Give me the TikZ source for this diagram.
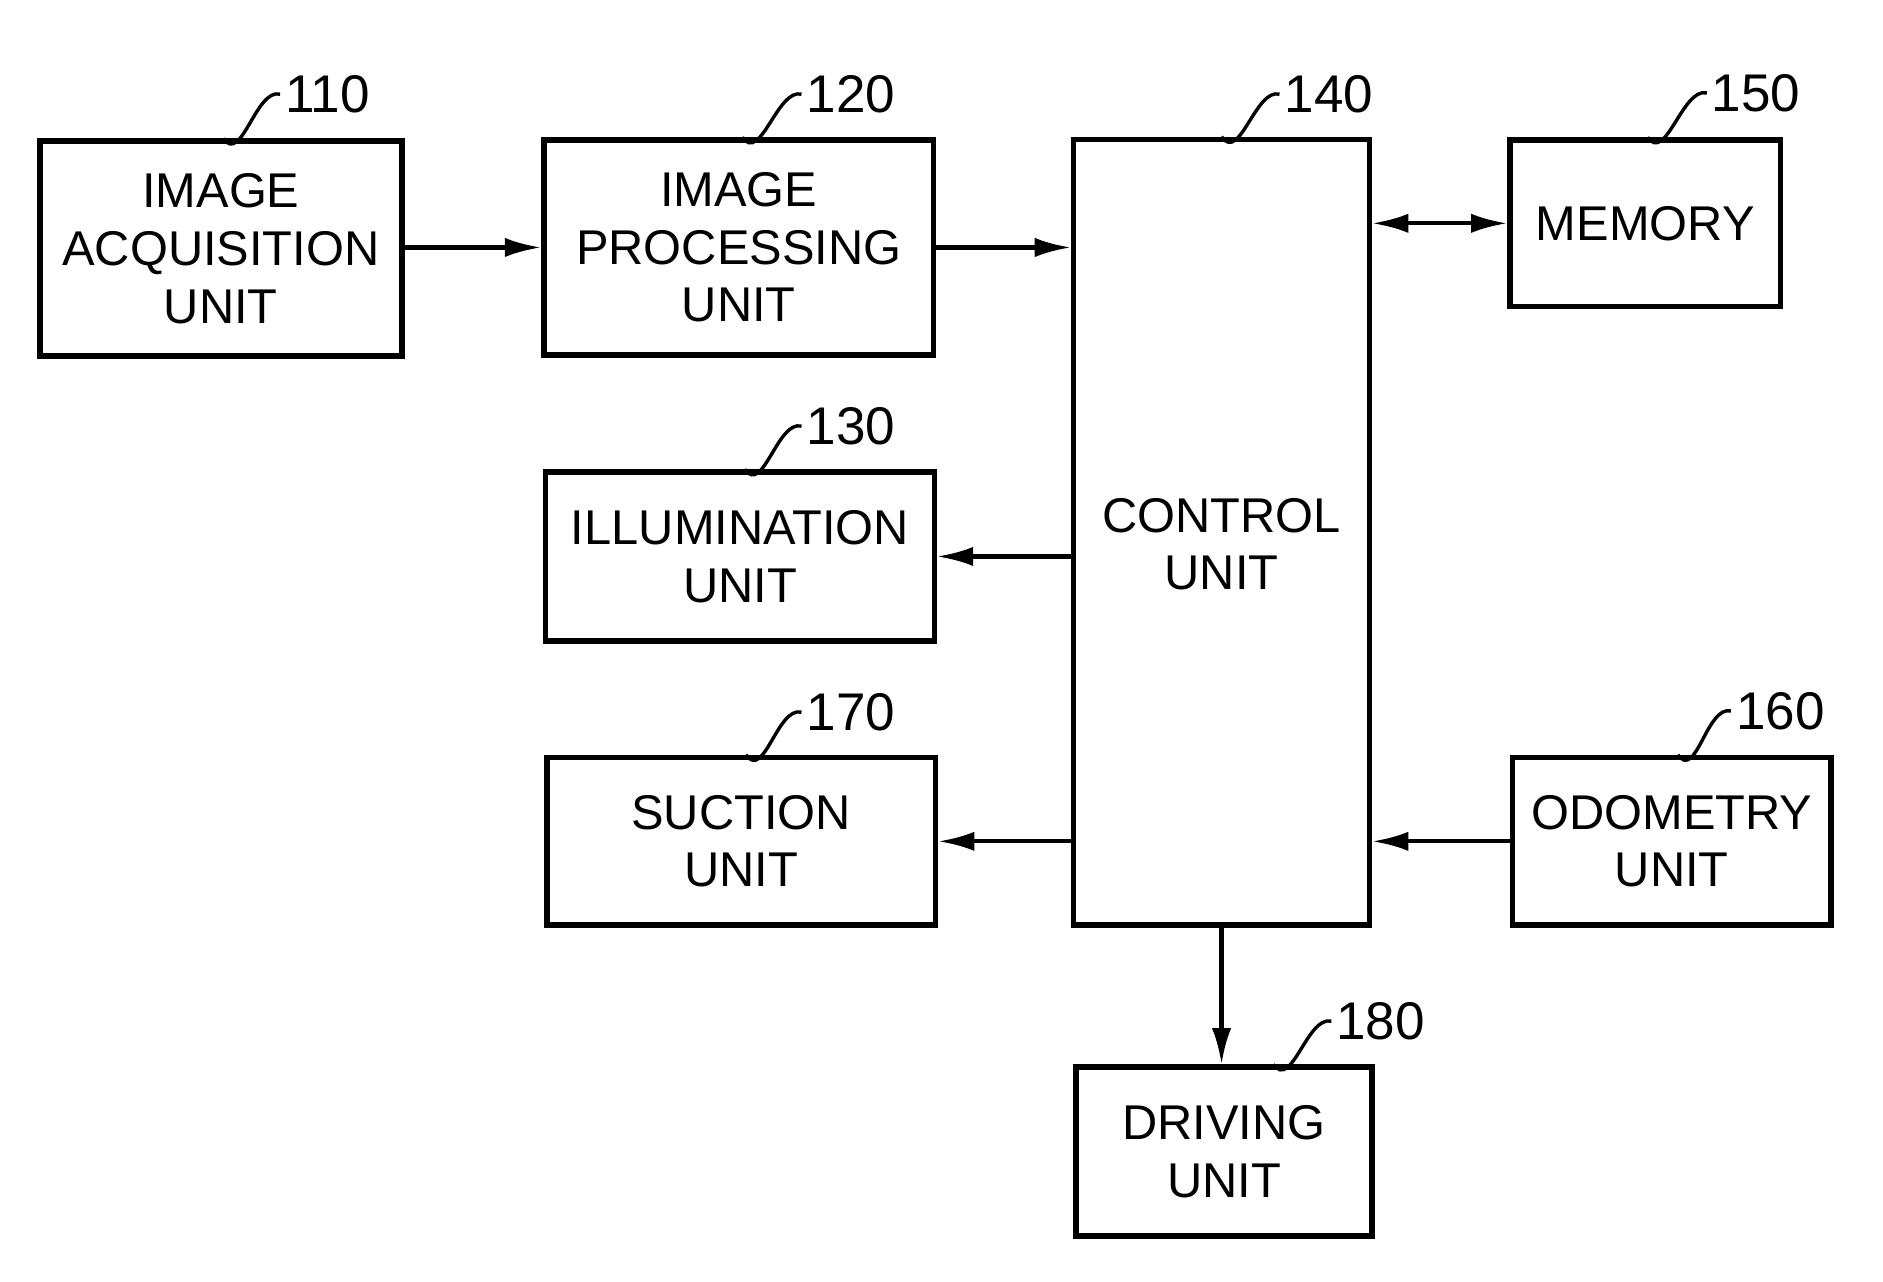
\documentclass[tikz,border=0pt]{standalone}
\usepackage{fontspec}
\setmainfont{Liberation Sans}
\usetikzlibrary{shapes,arrows.meta}
\tikzstyle{arrow} = [draw, -{Latex[length=3mm,width=1.6mm]}, line width=1pt]
\tikzstyle{biarrow} = [draw, {Latex[length=3mm,width=1.6mm]}-{Latex[length=3mm,width=1.6mm]}, line width=1pt]
\tikzstyle{unitBlock} = [draw, rectangle, line width=1.3pt, align=center,
    font=\fontsize{11.5}{13.6}\selectfont, inner sep=0pt]
\tikzstyle{refLabel} = [font=\fontsize{12.5}{14}\selectfont, anchor=west, inner sep=1pt]
\newcommand{\leader}[3]{\draw [line width=0.8pt] ([xshift=#3]#1.north) .. controls +(0.15,0.22) and +(-0.2,-0.05) .. (#2.west);}

\begin{document}
\begin{tikzpicture}[x=1cm, y=-1cm]
      \useasboundingbox (0,0) rectangle (15.6,10.62);
      % Place nodes
      \node [unitBlock, minimum width=3cm, minimum height=1.78cm] (acq) at (1.83,2.06) {IMAGE\\ACQUISITION\\UNIT};
      \node [unitBlock, minimum width=3.23cm, minimum height=1.78cm] (proc) at (6.12,2.05) {IMAGE\\PROCESSING\\UNIT};
      \node [unitBlock, minimum width=3.22cm, minimum height=1.4cm] (illum) at (6.13,4.61) {ILLUMINATION\\UNIT};
      \node [unitBlock, minimum width=3.22cm, minimum height=1.39cm] (suction) at (6.14,6.97) {SUCTION\\UNIT};
      \node [unitBlock, minimum width=2.45cm, minimum height=6.51cm] (control) at (10.12,4.41) {\\CONTROL\\UNIT};
      \node [unitBlock, minimum width=2.24cm, minimum height=1.38cm] (memory) at (13.63,1.85) {MEMORY};
      \node [unitBlock, minimum width=2.64cm, minimum height=1.39cm] (odometry) at (13.85,6.97) {ODOMETRY\\UNIT};
      \node [unitBlock, minimum width=2.45cm, minimum height=1.4cm] (driving) at (10.14,9.54) {DRIVING\\UNIT};

      % Reference numerals
      \node [refLabel] (l110) at (2.32,0.78) {110};
      \node [refLabel] (l120) at (6.64,0.78) {120};
      \node [refLabel] (l130) at (6.64,3.53) {130};
      \node [refLabel] (l170) at (6.64,5.9) {170};
      \node [refLabel] (l140) at (10.6,0.78) {140};
      \node [refLabel] (l150) at (14.14,0.77) {150};
      \node [refLabel] (l160) at (14.34,5.89) {160};
      \node [refLabel] (l180) at (11.03,8.46) {180};

      \leader{acq}{l110}{0.02cm}
      \leader{proc}{l120}{0.03cm}
      \leader{illum}{l130}{0.04cm}
      \leader{suction}{l170}{0.04cm}
      \leader{control}{l140}{0cm}
      \leader{memory}{l150}{0.02cm}
      \leader{odometry}{l160}{0.05cm}
      \leader{driving}{l180}{0.41cm}

      \path [arrow] (acq.east |- 0,2.05) -- (proc.west |- 0,2.05);
      \path [arrow] (proc.east |- 0,2.05) -- (control.west |- 0,2.05);
      \path [biarrow] (control.east |- memory) -- (memory.west);
      \path [arrow] (control.west |- illum) -- (illum.east);
      \path [arrow] (control.west |- suction) -- (suction.east);
      \path [arrow] (odometry.west) -- (control.east |- odometry);
      \path [arrow] (control.south) -- (control.south |- driving.north);
  \end{tikzpicture}
\end{document}
